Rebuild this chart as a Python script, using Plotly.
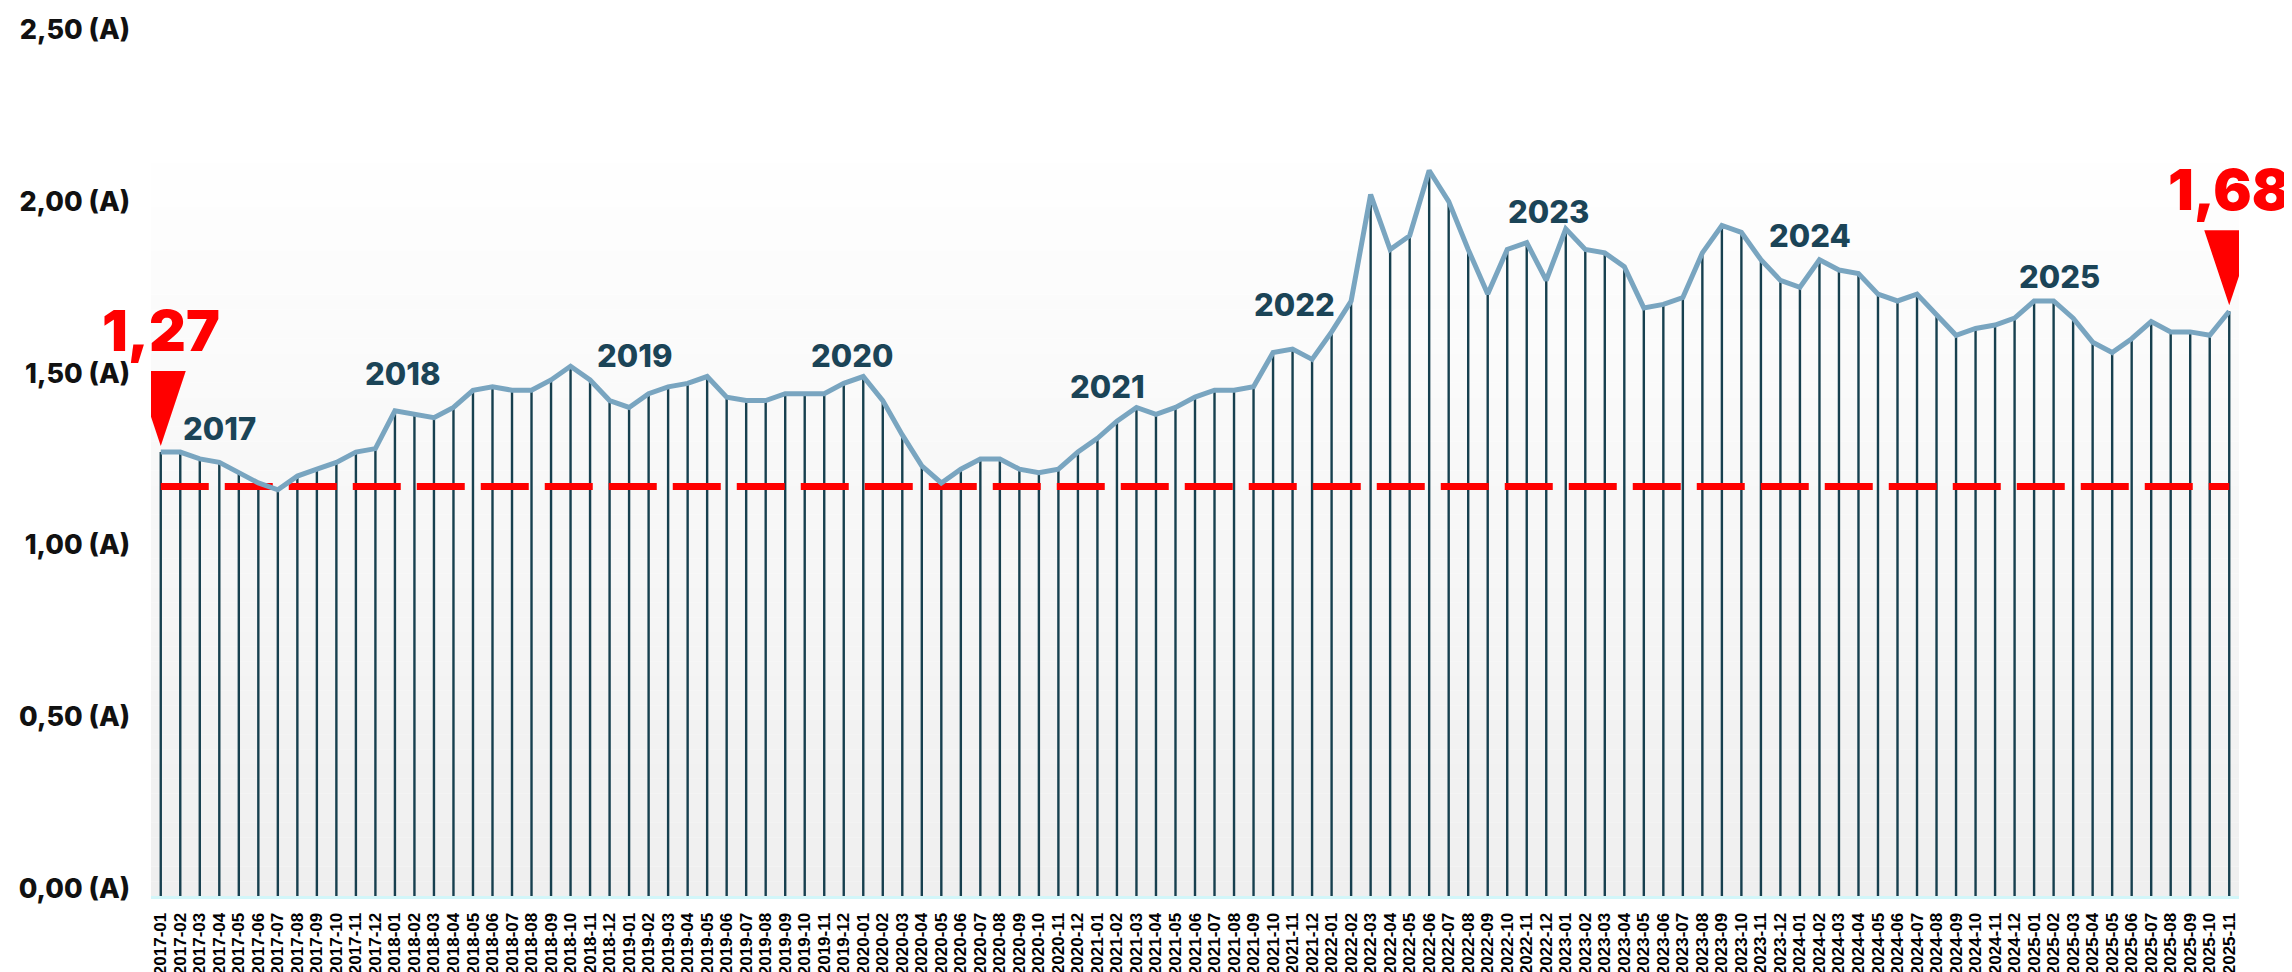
import plotly.graph_objects as go

# ---------------- data ----------------
months = [f"{y}-{m:02d}" for y in range(2017, 2026) for m in range(1, 13)][:107]

values = [
    1.27, 1.27, 1.25, 1.24, 1.21, 1.18, 1.16, 1.20, 1.22, 1.24, 1.27, 1.28,   # 2017
    1.39, 1.38, 1.37, 1.40, 1.45, 1.46, 1.45, 1.45, 1.48, 1.52, 1.48, 1.42,   # 2018
    1.40, 1.44, 1.46, 1.47, 1.49, 1.43, 1.42, 1.42, 1.44, 1.44, 1.44, 1.47,   # 2019
    1.49, 1.42, 1.32, 1.23, 1.18, 1.22, 1.25, 1.25, 1.22, 1.21, 1.22, 1.27,   # 2020
    1.31, 1.36, 1.40, 1.38, 1.40, 1.43, 1.45, 1.45, 1.46, 1.56, 1.57, 1.54,   # 2021
    1.62, 1.71, 2.02, 1.86, 1.90, 2.09, 2.00, 1.86, 1.73, 1.86, 1.88, 1.77,   # 2022
    1.92, 1.86, 1.85, 1.81, 1.69, 1.70, 1.72, 1.85, 1.93, 1.91, 1.83, 1.77,   # 2023
    1.75, 1.83, 1.80, 1.79, 1.73, 1.71, 1.73, 1.67, 1.61, 1.63, 1.64, 1.66,   # 2024
    1.71, 1.71, 1.66, 1.59, 1.56, 1.60, 1.65, 1.62, 1.62, 1.61, 1.68,         # 2025
]

reference_value = 1.17

years = ["2017", "2018", "2019", "2020", "2021", "2022", "2023", "2024", "2025"]
# annotation anchors for the year labels (x in month index, y in axis units)
year_label_x = [3.0, 12.4, 24.3, 35.4, 48.5, 58.1, 71.1, 84.5, 97.3]
year_label_y = [1.34, 1.50, 1.55, 1.55, 1.46, 1.70, 1.97, 1.90, 1.78]

y_ticks = [0.0, 0.5, 1.0, 1.5, 2.0, 2.5]

# ---------------- styles ----------------
LINE_COLOR = "#79a5c0"
DROP_COLOR = "#17404f"
YEAR_COLOR = "#1b4457"
RED = "#ff0000"
Y_MIN, Y_MAX = -0.023, 2.54

x_idx = list(range(len(values)))


def fmt(v):
    return f"{v:.2f}".replace(".", ",")


fig = go.Figure()

# drop lines from each point down to the axis line
drop_x, drop_y = [], []
for i, v in zip(x_idx, values):
    drop_x += [i, i, None]
    drop_y += [v, Y_MIN, None]
fig.add_trace(go.Scatter(x=drop_x, y=drop_y, mode="lines",
                         line=dict(color=DROP_COLOR, width=2.4),
                         hoverinfo="skip", showlegend=False))

# reference dashed line
fig.add_trace(go.Scatter(x=[x_idx[0], x_idx[-1]], y=[reference_value, reference_value],
                         mode="lines", line=dict(color=RED, width=7, dash="48px,16px"),
                         hoverinfo="skip", showlegend=False))

# main series line
fig.add_trace(go.Scatter(x=x_idx, y=values, mode="lines",
                         line=dict(color=LINE_COLOR, width=5),
                         showlegend=False))

shapes = []
# vertical gradient background of the plot area
n_bands = 60
for b in range(n_bands):
    t = b / (n_bands - 1)  # 0 bottom -> 1 top
    c = round(239 + (255 - 239) * min(1.0, t * 1.15))
    shapes.append(dict(type="rect", xref="paper", yref="paper",
                       x0=0, x1=1, y0=b / n_bands, y1=(b + 1) / n_bands,
                       fillcolor=f"rgb({c},{c},{c})", line=dict(width=0), layer="below"))

annotations = []
# red markers on first & last values
for i in (x_idx[0], x_idx[-1]):
    shapes.append(dict(type="path", xref="x", yref="y",
                       xsizemode="pixel", ysizemode="pixel",
                       xanchor=i, yanchor=values[i],
                       path="M -25,81 L 25,81 L 0,6 Z",
                       fillcolor=RED, line=dict(width=0), layer="above"))
    annotations.append(dict(x=i, y=values[i], xref="x", yref="y",
                            text=fmt(values[i]),
                            showarrow=False, yshift=122,
                            font=dict(family="Inter", size=57, color=RED, weight=900)))

for yr, xx, yy in zip(years, year_label_x, year_label_y):
    annotations.append(dict(x=xx, y=yy, xref="x", yref="y", text=yr,
                            showarrow=False,
                            font=dict(family="Inter", size=31, color=YEAR_COLOR, weight=800)))

fig.update_layout(
    width=2292, height=972,
    margin=dict(l=143, r=61, t=5, b=80),
    paper_bgcolor="white", plot_bgcolor="white",
    shapes=shapes, annotations=annotations,
    showlegend=False,
    xaxis=dict(range=[-0.5, len(values) - 0.5], tickmode="array",
               tickvals=x_idx, ticktext=months, tickangle=-90,
               tickfont=dict(family="Liberation Sans", size=17, color="black", weight=700),
               showgrid=False, zeroline=False, showline=True,
               linecolor="#d2f6f9", linewidth=3, ticks="", ticklabelstandoff=7),
    yaxis=dict(range=[Y_MIN, Y_MAX], tickmode="array", tickvals=y_ticks,
               ticktext=[fmt(v) + " (A)" for v in y_ticks],
               tickfont=dict(family="Inter", size=27, color="#111111", weight=800),
               showgrid=False, zeroline=False, showline=False, ticks="",
               ticklabelstandoff=20),
)

fig.write_html("out.html")
